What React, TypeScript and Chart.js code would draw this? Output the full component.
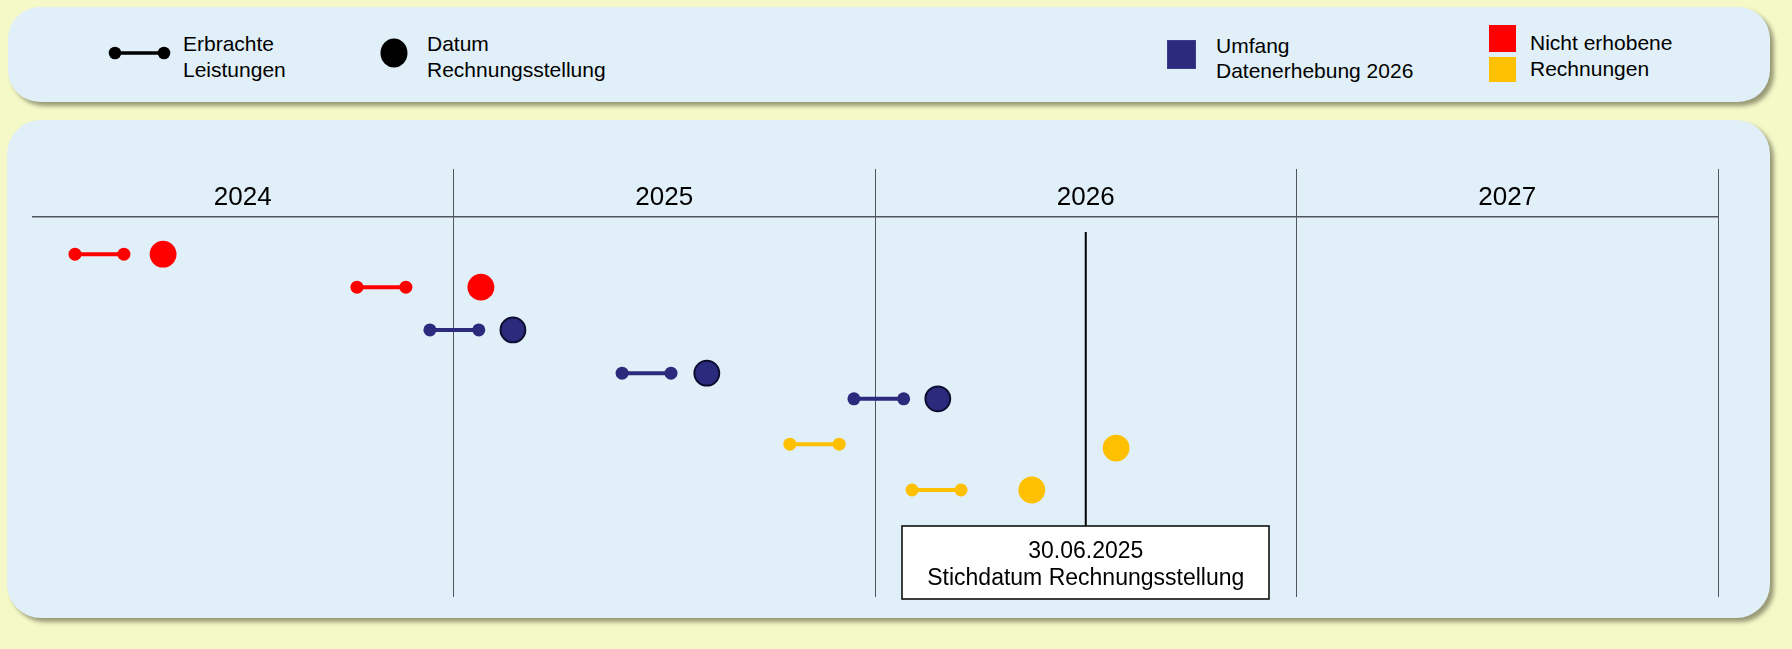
import React, { useEffect, useRef } from 'react';
import { Chart, registerables } from 'chart.js';

Chart.register(...registerables);

// ---------- Daten ----------
const yearLabels = ['2024', '2025', '2026', '2027'];
const yearCentres = [2024.5, 2025.5, 2026.5, 2027.5];
const yearBoundaries = [2025, 2026, 2027, 2028];
const xMin = 2024;
const xMax = 2028;

// Kategorie je Zeile: rot/gelb = nicht erhobene Rechnungen, blau = Umfang Datenerhebung 2026
const rowKategorie = ['rot', 'rot', 'blau', 'blau', 'blau', 'gelb', 'gelb'];
const rowPosition = [1.99, 2.76, 3.76, 4.77, 5.37, 6.43, 7.5];
const leistungStart = [2024.102, 2024.771, 2024.944, 2025.4, 2025.95, 2025.798, 2026.088];
const leistungEnde = [2024.218, 2024.887, 2025.06, 2025.516, 2026.068, 2025.915, 2026.204];
const rechnungDatum = [2024.311, 2025.065, 2025.141, 2025.601, 2026.149, 2026.572, 2026.372];
const rechnungPosition = [1.99, 2.76, 3.76, 4.77, 5.37, 6.52, 7.5];

const kopfzeileY = 1.12;
const stichdatumX = 2026.5;
const stichdatumLinieVon = 1.47;
const stichdatumLinieBis = 8.34;
const stichdatumText = ['30.06.2025', 'Stichdatum Rechnungsstellung'];

const legendeLeistungen = ['Erbrachte', 'Leistungen'];
const legendeDatum = ['Datum', 'Rechnungsstellung'];
const legendeUmfang = ['Umfang', 'Datenerhebung 2026'];
const legendeNicht = ['Nicht erhobene', 'Rechnungen'];

// ---------- Stile ----------
const FONT = '"Liberation Sans", Arial, Helvetica, sans-serif';
const farbe: Record<string, string> = { rot: '#FF0000', blau: '#2B2A7D', gelb: '#FFC000' };
const GRID = '#51565c';
const PAGE_BG = '#F5F9C8';
const PANEL_BG = '#E1EFF8';
const SHADOW = '4px 4px 4px rgba(120,122,90,0.75)';

const boxPlugin = {
  id: 'stichdatumBox',
  afterDraw(chart: any) {
    const ctx = chart.ctx;
    const xs = chart.scales.x;
    const ys = chart.scales.y;
    const cx = xs.getPixelForValue(stichdatumX);
    const top = Math.round(ys.getPixelForValue(stichdatumLinieBis));
    ctx.save();
    ctx.font = '23px ' + FONT;
    const w = Math.round(Math.max(...stichdatumText.map((t) => ctx.measureText(t).width)) + 50);
    const h = 73;
    const left = Math.round(cx - w / 2);
    ctx.fillStyle = '#ffffff';
    ctx.fillRect(left, top, w, h);
    ctx.lineWidth = 1.6;
    ctx.strokeStyle = '#111111';
    ctx.strokeRect(left, top, w, h);
    ctx.fillStyle = '#000000';
    ctx.textAlign = 'center';
    ctx.textBaseline = 'middle';
    ctx.fillText(stichdatumText[0], cx, top + 26);
    ctx.fillText(stichdatumText[1], cx, top + 53);
    ctx.restore();
  },
};

function ChartCanvas() {
  const ref = useRef<HTMLCanvasElement | null>(null);
  useEffect(() => {
    if (!ref.current) return;
    const datasets: any[] = [];
    rowKategorie.forEach((k, i) => {
      datasets.push({
        label: legendeLeistungen.join(' '),
        data: [
          { x: leistungStart[i], y: rowPosition[i] },
          { x: leistungEnde[i], y: rowPosition[i] },
        ],
        showLine: true,
        borderColor: farbe[k],
        backgroundColor: farbe[k],
        borderWidth: 4,
        pointRadius: 6.5,
        pointBorderWidth: 0,
        pointBackgroundColor: farbe[k],
        clip: false,
      });
    });
    datasets.push({
      label: legendeDatum.join(' '),
      data: rechnungDatum.map((x, i) => ({ x, y: rechnungPosition[i] })),
      showLine: false,
      pointRadius: rowKategorie.map((k) => (k === 'blau' ? 12.4 : 13.4)),
      pointBackgroundColor: rowKategorie.map((k) => farbe[k]),
      pointBorderColor: rowKategorie.map((k) => (k === 'blau' ? '#0D0D30' : farbe[k])),
      pointBorderWidth: rowKategorie.map((k) => (k === 'blau' ? 2 : 0)),
      clip: false,
    });
    datasets.push({
      label: stichdatumText.join(' '),
      data: [
        { x: stichdatumX, y: stichdatumLinieVon },
        { x: stichdatumX, y: stichdatumLinieBis },
      ],
      showLine: true,
      borderColor: '#000000',
      borderWidth: 2,
      pointRadius: 0,
      clip: false,
    });

    const chart = new Chart(ref.current, {
      type: 'scatter',
      data: { datasets },
      plugins: [boxPlugin],
      options: {
        animation: false,
        responsive: false,
        devicePixelRatio: 1,
        events: [],
        layout: { padding: { left: 32, top: 169, right: 74, bottom: 52 } },
        plugins: { legend: { display: false }, tooltip: { enabled: false } },
        scales: {
          x: {
            type: 'linear',
            position: 'bottom',
            min: xMin,
            max: xMax,
            afterBuildTicks: (s: any) => {
              s.ticks = yearBoundaries.map((v) => ({ value: v }));
            },
            ticks: { display: false },
            grid: { color: GRID, lineWidth: 1, drawTicks: false },
            border: { display: false },
          },
          xJahre: {
            type: 'linear',
            position: { y: 0 },
            min: xMin,
            max: xMax,
            afterBuildTicks: (s: any) => {
              s.ticks = yearCentres.map((v) => ({ value: v }));
            },
            ticks: {
              autoSkip: false,
              maxRotation: 0,
              padding: 13,
              color: '#000000',
              font: { size: 26, family: FONT },
              callback: (_v: any, i: number) => yearLabels[i],
            },
            grid: { display: false, drawTicks: false },
            border: { display: false },
          },
          y: {
            type: 'linear',
            reverse: true,
            min: 0,
            max: 10,
            afterBuildTicks: (s: any) => {
              s.ticks = [{ value: kopfzeileY }];
            },
            ticks: { display: false },
            grid: { color: GRID, lineWidth: 1.6, drawTicks: false },
            border: { display: false },
          },
        } as any,
      },
    });
    return () => chart.destroy();
  }, []);
  return (
    <canvas
      ref={ref}
      width={1792}
      height={649}
      style={{ position: 'absolute', left: 0, top: 0, width: 1792, height: 649 }}
    />
  );
}

const textStyle: React.CSSProperties = {
  position: 'absolute',
  fontFamily: FONT,
  fontSize: 21,
  color: '#000',
  whiteSpace: 'nowrap',
};

export default function App() {
  return (
    <div
      style={{
        position: 'fixed',
        left: 0,
        top: 0,
        width: 1792,
        height: 649,
        background: PAGE_BG,
        overflow: 'hidden',
      }}
    >
      {/* Legenden-Panel */}
      <div
        style={{
          position: 'absolute',
          left: 8,
          top: 7,
          width: 1762,
          height: 95,
          borderRadius: 32,
          background: PANEL_BG,
          boxShadow: SHADOW,
        }}
      />
      {/* Diagramm-Panel */}
      <div
        style={{
          position: 'absolute',
          left: 7,
          top: 120,
          width: 1763,
          height: 498,
          borderRadius: 34,
          background: PANEL_BG,
          boxShadow: SHADOW,
        }}
      />

      {/* Legende */}
      <svg style={{ position: 'absolute', left: 105, top: 43 }} width={70} height={20}>
        <line x1={10} y1={10} x2={59} y2={10} stroke="#000" strokeWidth={3.5} />
        <circle cx={10} cy={10} r={6.3} fill="#000" />
        <circle cx={59} cy={10} r={6.3} fill="#000" />
      </svg>
      <div style={{ ...textStyle, left: 183, top: 31, lineHeight: '26px' }}>
        {legendeLeistungen[0]}
        <br />
        {legendeLeistungen[1]}
      </div>

      <svg style={{ position: 'absolute', left: 378, top: 37 }} width={32} height={32}>
        <ellipse cx={16} cy={16} rx={13.5} ry={14.5} fill="#000" />
      </svg>
      <div style={{ ...textStyle, left: 427, top: 31, lineHeight: '26px' }}>
        {legendeDatum[0]}
        <br />
        {legendeDatum[1]}
      </div>

      <div
        style={{
          position: 'absolute',
          left: 1167,
          top: 40,
          width: 29,
          height: 29,
          background: farbe.blau,
          boxSizing: 'border-box',
          border: '1px solid #3c3c8c',
        }}
      />
      <div style={{ ...textStyle, left: 1216, top: 33, lineHeight: '25px' }}>
        {legendeUmfang[0]}
        <br />
        {legendeUmfang[1]}
      </div>

      <div style={{ position: 'absolute', left: 1489, top: 25, width: 27, height: 27, background: farbe.rot }} />
      <div style={{ position: 'absolute', left: 1489, top: 57, width: 27, height: 25, background: farbe.gelb }} />
      <div style={{ ...textStyle, left: 1530, top: 30, lineHeight: '26px' }}>
        {legendeNicht[0]}
        <br />
        {legendeNicht[1]}
      </div>

      <ChartCanvas />
    </div>
  );
}
